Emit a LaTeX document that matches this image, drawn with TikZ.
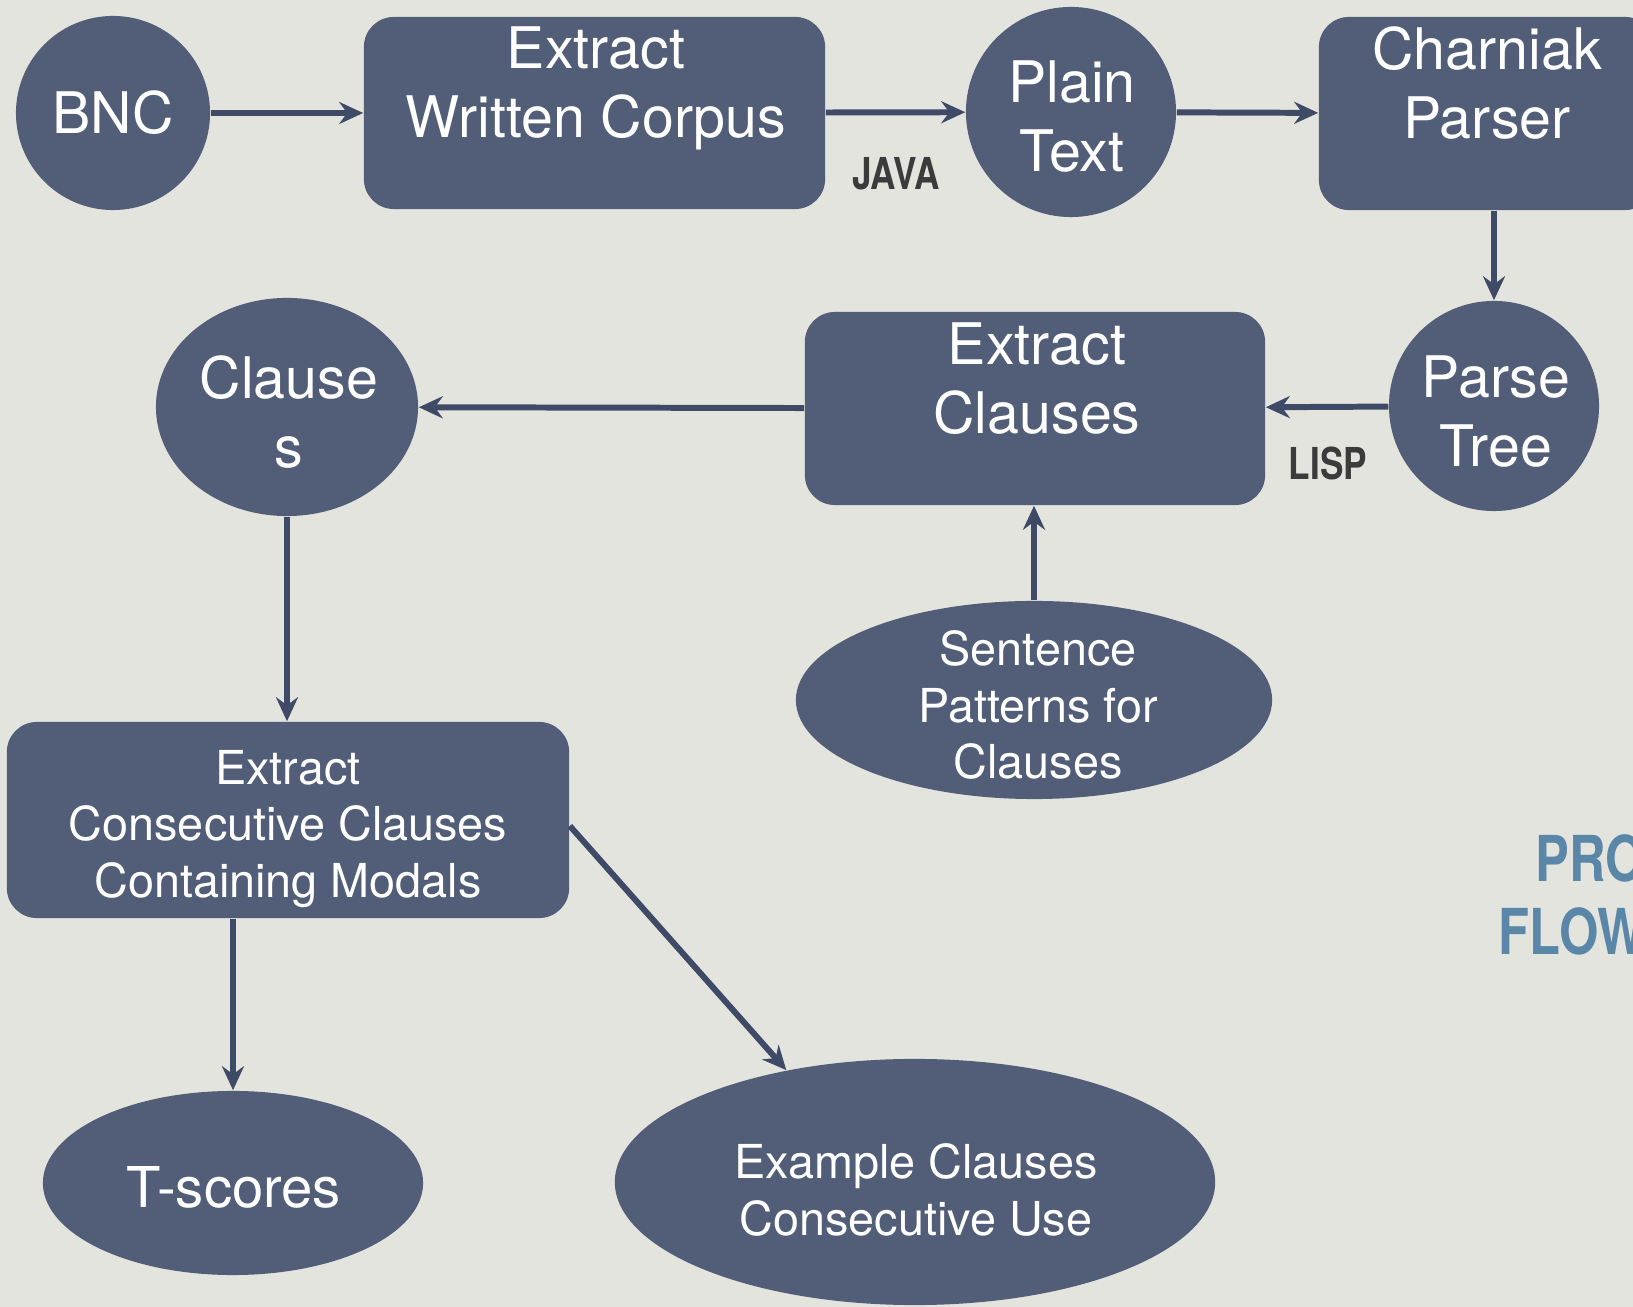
\documentclass[tikz,border=0pt]{standalone}
\usepackage{fontspec}
\setmainfont{TeX Gyre Heros}
\newfontfamily\narrowfont[FakeStretch=0.8]{TeX Gyre Heros}
\usepackage{xcolor}
\usepackage{tikz}
\usetikzlibrary{arrows.meta,positioning,calc,shapes.geometric}
\definecolor{paper}{HTML}{E4E4DF}
\definecolor{slate}{HTML}{525E78}
\definecolor{wire}{HTML}{3E4A66}
\definecolor{tagGray}{HTML}{3B3B3B}
\definecolor{steel}{HTML}{5A87A8}

\begin{document}
\begin{tikzpicture}[x=0.01cm,y=-0.01cm,
  >={Stealth[length=0.24cm,width=0.22cm,inset=0.08cm]},
  box/.style={rectangle,fill=slate,rounded corners=0.3cm,inner sep=0pt},
  disc/.style={circle,fill=slate,inner sep=0pt},
  blob/.style={ellipse,fill=slate,inner sep=0pt},
  big/.style={text=white,align=center,font=\fontsize{16.3}{19.6}\selectfont},
  small/.style={text=white,align=center,font=\fontsize{13.3}{16}\selectfont},
  tag/.style={text=tagGray,font=\narrowfont\bfseries\fontsize{12.5}{15}\selectfont},
  flow/.style={->,wire,line width=1.7pt}]
\fill[paper] (0,0) rectangle (1633,1307);
\useasboundingbox (0,0) rectangle (1633,1307);
% --- top row ---
\node[disc,minimum size=1.94cm] (bnc) at (113,113) {};
\node[box,minimum width=4.61cm,minimum height=1.92cm] (ewc) at (594.5,113) {};
\node[disc,minimum size=2.1cm] (plain) at (1071,112) {};
\node[box,minimum width=3.36cm,minimum height=1.93cm] (charniak) at (1487,113.5) {};
\node[big] (bncT) at (113,113) {BNC};
\node[big] (ewcT) at (596,88) {Extract\\Written Corpus};
\node[big] (plainT) at (1072,117) {Plain\\Text};
\node[big] (charniakT) at (1487,83) {Charniak\\Parser};
\node[tag] (java) at (896,174) {JAVA};
% --- middle row ---
\node[disc,minimum size=2.1cm] (parse) at (1494,406) {};
\node[box,minimum width=4.6cm,minimum height=1.93cm] (exc) at (1035,408.5) {};
\node[blob,minimum width=2.62cm,minimum height=2.18cm] (clauses) at (287,407) {};
\node[blob,minimum width=4.76cm,minimum height=1.98cm] (sent) at (1034,700) {};
\node[big] (parseT) at (1496,412) {Parse\\Tree};
\node[big] (excT) at (1037,379) {Extract\\Clauses};
\node[big] (clausesT) at (289,412) {Clause\\s};
\node[small] (sentT) at (1038,705) {Sentence\\Patterns for\\Clauses};
\node[tag] (lisp) at (1328,463) {LISP};
% --- bottom row ---
\node[box,minimum width=5.62cm,minimum height=1.96cm] (ecc) at (288,820) {};
\node[blob,minimum width=3.8cm,minimum height=1.84cm] (tsc) at (233,1183) {};
\node[blob,minimum width=6.0cm,minimum height=2.46cm] (exu) at (915,1182) {};
\node[small] (eccT) at (288,829) {Extract\\Consecutive Clauses\\Containing Modals};
\node[big,font=\fontsize{16}{19}\selectfont] (tscT) at (234,1187) {T-scores};
\node[small] (exuT) at (916,1190) {Example Clauses\\Consecutive Use};
% --- side title ---
\node[text=steel,anchor=base west,inner sep=0pt,font=\narrowfont\bfseries\fontsize{18}{22}\selectfont] (pro) at (1535,882) {PRO};
\node[text=steel,anchor=base west,inner sep=0pt,font=\narrowfont\bfseries\fontsize{18}{22}\selectfont] (flow) at (1498,955) {FLOW};
% --- connectors ---
\draw[flow] (bnc) -- (ewc);
\draw[flow] (ewc) -- (plain);
\draw[flow] (plain) -- (charniak);
\draw[flow] (parse |- charniak.south) -- (parse);
\draw[flow] (parse) -- (exc);
\draw[flow] (exc) -- (clauses);
\draw[flow] (sent) -- (sent |- exc.south);
\draw[flow] (clauses) -- (clauses |- ecc.north);
\draw[flow] (tsc |- ecc.south) -- (tsc);
\draw[flow] ([yshift=-0.06cm]ecc.east) -- (exu.139);
\end{tikzpicture}
\end{document}
